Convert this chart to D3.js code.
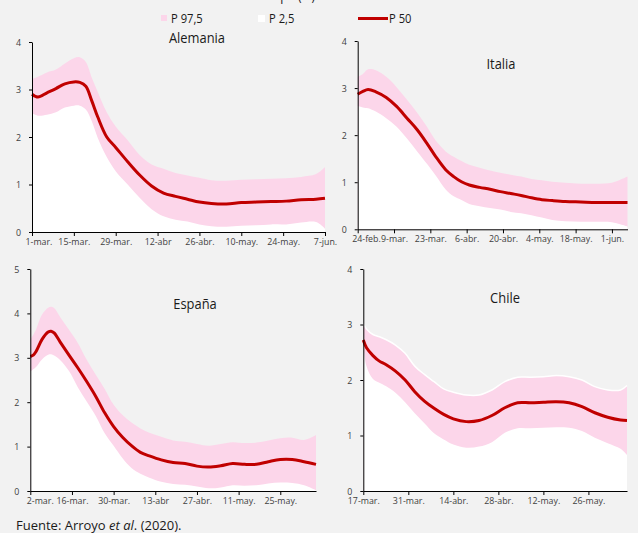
<!DOCTYPE html>
<html>
<head>
<meta charset="utf-8">
<script src="https://cdn.jsdelivr.net/npm/d3@7"></script>
<style>
  body { margin: 0; background: #f2f2f2; }
  svg { display: block; font-family: "Open Sans", sans-serif; }
</style>
</head>
<body>
<div id="root"></div>
<script>
// Alemania (dias desde 1-mar)
var deDias = [0, 2, 5, 8, 11, 14, 16, 18, 20, 22, 25, 28, 32, 36, 40, 44, 48, 52, 56, 60, 65, 70, 75, 80, 85, 90, 95, 98];
var deP975 = [3.22, 3.27, 3.36, 3.42, 3.55, 3.66, 3.68, 3.58, 3.25, 2.95, 2.52, 2.22, 1.93, 1.62, 1.42, 1.33, 1.24, 1.19, 1.14, 1.09, 1.08, 1.10, 1.11, 1.12, 1.13, 1.16, 1.22, 1.37];
var deP50 = [2.90, 2.84, 2.93, 3.02, 3.12, 3.16, 3.15, 3.07, 2.76, 2.42, 2.0, 1.78, 1.48, 1.20, 0.97, 0.82, 0.75, 0.69, 0.63, 0.60, 0.59, 0.62, 0.63, 0.64, 0.65, 0.68, 0.69, 0.71];
var deP025 = [2.50, 2.45, 2.47, 2.52, 2.62, 2.66, 2.66, 2.58, 2.33, 1.98, 1.58, 1.28, 1.00, 0.72, 0.48, 0.33, 0.26, 0.22, 0.16, 0.12, 0.11, 0.13, 0.14, 0.16, 0.16, 0.20, 0.21, 0.07];
var deTicks = ["1-mar.", "15-mar.", "29-mar.", "12-abr", "26-abr.", "10-may.", "24-may.", "7-jun."];

// Italia (dias desde 24-feb)
var itDias = [0, 2, 4, 7, 11, 15, 19, 23, 27, 30, 34, 37, 40, 43, 47, 51, 55, 59, 63, 67, 71, 75, 80, 86, 92, 98, 104];
var itP975 = [3.24, 3.30, 3.40, 3.38, 3.24, 3.02, 2.75, 2.47, 2.15, 1.89, 1.65, 1.54, 1.45, 1.37, 1.31, 1.25, 1.20, 1.16, 1.12, 1.07, 1.04, 1.01, 0.99, 0.97, 0.97, 0.99, 1.12];
var itP50 = [2.87, 2.93, 2.97, 2.92, 2.80, 2.61, 2.36, 2.11, 1.80, 1.55, 1.26, 1.12, 1.01, 0.94, 0.89, 0.85, 0.80, 0.76, 0.72, 0.67, 0.63, 0.61, 0.59, 0.58, 0.57, 0.57, 0.57];
var itP025 = [2.62, 2.59, 2.57, 2.50, 2.36, 2.18, 1.93, 1.65, 1.37, 1.15, 0.84, 0.70, 0.62, 0.54, 0.49, 0.45, 0.42, 0.37, 0.34, 0.30, 0.25, 0.20, 0.17, 0.16, 0.16, 0.15, 0.06];
var itTicks = ["24-feb.", "9-mar.", "23-mar.", "6-abr.", "20-abr.", "4-may.", "18-may.", "1-jun."];

// España (dias desde 2-mar)
var esDias = [0, 1, 2, 4, 6, 7, 8, 10, 13, 16, 19, 22, 25, 28, 31, 34, 37, 40, 44, 48, 52, 56, 60, 64, 68, 72, 76, 80, 84, 88, 92, 96];
var esP975 = [3.40, 3.52, 3.65, 3.98, 4.13, 4.15, 4.12, 3.92, 3.63, 3.33, 2.95, 2.62, 2.30, 1.94, 1.71, 1.54, 1.41, 1.31, 1.22, 1.14, 1.11, 1.06, 1.02, 1.06, 1.10, 1.08, 1.09, 1.14, 1.19, 1.20, 1.15, 1.26];
var esP50 = [3.03, 3.06, 3.15, 3.42, 3.58, 3.60, 3.56, 3.36, 3.06, 2.77, 2.46, 2.13, 1.76, 1.45, 1.21, 1.02, 0.87, 0.79, 0.70, 0.64, 0.62, 0.56, 0.54, 0.57, 0.62, 0.60, 0.60, 0.66, 0.71, 0.71, 0.66, 0.60];
var esP025 = [2.69, 2.74, 2.80, 2.97, 3.07, 3.08, 3.05, 2.95, 2.70, 2.33, 2.01, 1.69, 1.30, 1.02, 0.74, 0.52, 0.39, 0.30, 0.21, 0.16, 0.14, 0.10, 0.06, 0.08, 0.13, 0.12, 0.13, 0.17, 0.19, 0.18, 0.13, 0.02];
var esTicks = ["2-mar.", "16-mar.", "30-mar.", "13-abr", "27-abr.", "11-may.", "25-may."];

// Chile (dias desde 17-mar)
var clDias = [0, 1, 3, 5, 7, 10, 13, 16, 19, 22, 25, 28, 32, 36, 40, 44, 48, 52, 56, 60, 64, 68, 72, 76, 80, 82];
var clP975 = [3.02, 2.92, 2.82, 2.78, 2.73, 2.63, 2.48, 2.25, 2.10, 1.97, 1.84, 1.78, 1.73, 1.73, 1.82, 1.97, 2.05, 2.05, 2.06, 2.08, 2.06, 2.00, 1.88, 1.82, 1.82, 1.90];
var clP50 = [2.72, 2.58, 2.44, 2.34, 2.28, 2.16, 2.00, 1.79, 1.62, 1.49, 1.38, 1.30, 1.25, 1.27, 1.36, 1.50, 1.59, 1.59, 1.60, 1.61, 1.59, 1.52, 1.41, 1.33, 1.28, 1.27];
var clP025 = [2.69, 2.25, 2.02, 1.95, 1.89, 1.77, 1.60, 1.40, 1.22, 1.04, 0.93, 0.84, 0.78, 0.80, 0.88, 1.05, 1.13, 1.13, 1.14, 1.15, 1.14, 1.08, 0.96, 0.86, 0.76, 0.65];
var clTicks = ["17-mar.", "31-mar.", "14-abr.", "28-abr.", "12-may.", "26-may."];

var legendLabels = ["P 97,5", "P 2,5", "P 50"];

var width = 638;
var height = 533;
var pink = "#fcd6ea";
var red = "#c00000";
var parse = d3.timeParse("%Y-%m-%d");
var curve = d3.curveCatmullRom.alpha(0.5);

var svg = d3
  .select("#root")
  .append("svg")
  .attr("width", width)
  .attr("height", height);

svg.append("rect").attr("width", width).attr("height", height).attr("fill", "#f2f2f2");

// titulo cortado arriba (solo asoman los trazos bajos)
svg
  .append("text")
  .attr("class", "narrow")
  .attr("x", 315)
  .attr("y", -0.5)
  .attr("text-anchor", "end")
  .attr("font-size", 14)
  .attr("fill", "#222")
  .text("Rt estimado en el tiempo (%)");

// firstDx: el primer rotulo del eje x va corrido a la derecha, como en el original
var panels = [
  { name: "Alemania", start: "2020-03-01", dias: deDias, lo: deP025, mid: deP50, hi: deP975, labels: deTicks, yMax: 4, x0: 32, x1: 325, y0: 232, y1: 42, tx: 197, ty: 42.5, white: false, firstDx: -7 },
  { name: "Italia", start: "2020-02-24", dias: itDias, lo: itP025, mid: itP50, hi: itP975, labels: itTicks, yMax: 4, x0: 357.7, x1: 627.5, y0: 229.3, y1: 41, tx: 501, ty: 69, white: false, firstDx: -6 },
  { name: "España", start: "2020-03-02", dias: esDias, lo: esP025, mid: esP50, hi: esP975, labels: esTicks, yMax: 5, x0: 30.3, x1: 316, y0: 491, y1: 269, tx: 195, ty: 309, white: false, firstDx: -4 },
  { name: "Chile", start: "2020-03-17", dias: clDias, lo: clP025, mid: clP50, hi: clP975, labels: clTicks, yMax: 4, x0: 363.3, x1: 627, y0: 491, y1: 269, tx: 505, ty: 303, white: true, firstDx: null }
];

panels.forEach(function (p) {
  var start = parse(p.start);
  var end = d3.timeDay.offset(start, p.dias[p.dias.length - 1]);
  var xScale = d3.scaleTime().domain([start, end]).range([p.x0, p.x1]);
  var yScale = d3.scaleLinear().domain([0, p.yMax]).range([p.y0, p.y1]);

  var rows = p.dias.map(function (d, i) {
    return { date: d3.timeDay.offset(start, d), lo: p.lo[i], mid: p.mid[i], hi: p.hi[i] };
  });

  var g = svg.append("g");

  var upper = d3
    .area()
    .curve(curve)
    .x((d) => xScale(d.date))
    .y0(yScale(0))
    .y1((d) => yScale(d.hi));
  g.append("path").datum(rows).attr("d", upper).attr("fill", pink);

  if (p.white) {
    var topLine = d3
      .line()
      .curve(curve)
      .x((d) => xScale(d.date))
      .y((d) => yScale(d.hi));
    g.append("path").datum(rows).attr("d", topLine).attr("fill", "none").attr("stroke", "#fff").attr("stroke-width", 1.5);
  }

  var lower = d3
    .area()
    .curve(curve)
    .x((d) => xScale(d.date))
    .y0(yScale(0))
    .y1((d) => yScale(d.lo));
  g.append("path").datum(rows).attr("d", lower).attr("fill", "#fff");

  var midLine = d3
    .line()
    .curve(curve)
    .x((d) => xScale(d.date))
    .y((d) => yScale(d.mid));
  g.append("path")
    .datum(rows)
    .attr("d", midLine)
    .attr("fill", "none")
    .attr("stroke", red)
    .attr("stroke-width", 3)
    .attr("stroke-linejoin", "round");

  // ejes
  var tickDates = p.labels.map((d, i) => d3.timeDay.offset(start, 14 * i));
  var xAxis = d3
    .axisBottom(xScale)
    .tickValues(tickDates)
    .tickFormat((d, i) => p.labels[i])
    .tickSize(4)
    .tickSizeOuter(0)
    .tickPadding(2);
  var gx = g
    .append("g")
    .attr("class", "axis")
    .attr("transform", "translate(0," + p.y0 + ")")
    .call(xAxis);
  if (p.firstDx !== null) {
    gx.select(".tick text").attr("text-anchor", "start").attr("x", p.firstDx);
  }

  var yAxis = d3
    .axisLeft(yScale)
    .tickValues(d3.range(0, p.yMax + 1))
    .tickFormat(d3.format("d"))
    .tickSize(3)
    .tickSizeOuter(0)
    .tickPadding(8);
  g.append("g")
    .attr("class", "axis")
    .attr("transform", "translate(" + p.x0 + ",0)")
    .call(yAxis);

  g.append("text")
    .attr("class", "narrow")
    .attr("x", p.tx)
    .attr("y", p.ty)
    .attr("text-anchor", "middle")
    .attr("font-size", 15)
    .attr("fill", "#1a1a1a")
    .text(p.name);
});

svg.selectAll(".axis path, .axis line").attr("stroke", "#000").attr("stroke-width", 1);
svg
  .selectAll(".axis text")
  .attr("font-family", "Open Sans")
  .attr("font-size", 9.5)
  .attr("fill", "#404040");

// leyenda
var legend = svg.append("g").attr("font-size", 13).attr("fill", "#1a1a1a");
legend.append("rect").attr("x", 161).attr("y", 15).attr("width", 6).attr("height", 6).attr("fill", pink);
legend.append("text").attr("class", "narrow").attr("x", 171).attr("y", 23).text(legendLabels[0]);
legend.append("rect").attr("x", 258).attr("y", 15).attr("width", 7).attr("height", 7).attr("fill", "#fff");
legend.append("text").attr("class", "narrow").attr("x", 269).attr("y", 23).text(legendLabels[1]);
legend.append("line").attr("x1", 358).attr("x2", 388).attr("y1", 18.5).attr("y2", 18.5).attr("stroke", red).attr("stroke-width", 3);
legend.append("text").attr("class", "narrow").attr("x", 389).attr("y", 23).text(legendLabels[2]);

// fuente
var src = svg.append("text").attr("x", 16).attr("y", 530).attr("font-size", 13).attr("fill", "#1a1a1a");
src.append("tspan").text("Fuente: Arroyo ");
src.append("tspan").attr("font-style", "italic").text("et al");
src.append("tspan").text(". (2020).");

// letra algo mas estrecha, como en el original
svg.selectAll("text.narrow").each(function () {
  var len = this.getComputedTextLength();
  this.setAttribute("textLength", len * 0.86);
  this.setAttribute("lengthAdjust", "spacingAndGlyphs");
});
// rotulos de los ejes apenas mas angostos
svg.selectAll(".axis text").each(function () {
  var len = this.getComputedTextLength();
  this.setAttribute("textLength", len * 0.93);
  this.setAttribute("lengthAdjust", "spacingAndGlyphs");
});
</script>
</body>
</html>
